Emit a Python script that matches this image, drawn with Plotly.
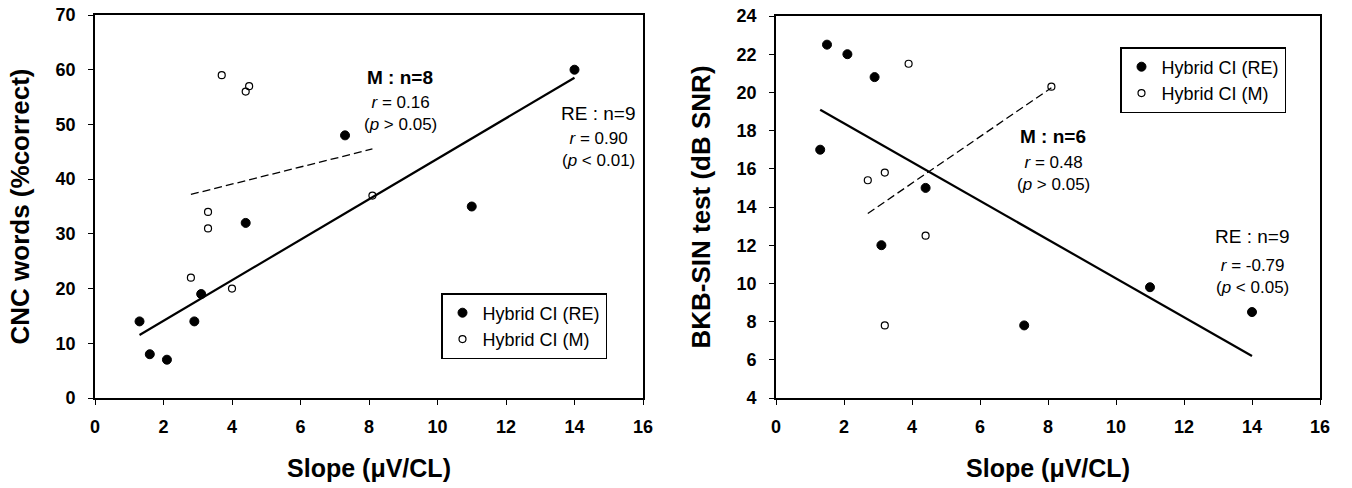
import numpy as np
import plotly.graph_objects as go

# ---- data ----
slope_re_cnc = [1.3, 1.6, 2.1, 2.9, 3.1, 4.4, 7.3, 11.0, 14.0]
cnc_re = [14, 8, 7, 14, 19, 32, 48, 35, 60]
slope_m_cnc = [3.7, 4.4, 4.5, 2.8, 3.3, 3.3, 4.0, 8.1]
cnc_m = [59, 56, 57, 22, 34, 31, 20, 37]

slope_re_bkb = [1.3, 1.5, 2.1, 2.9, 3.1, 4.4, 7.3, 11.0, 14.0]
bkb_re = [17.0, 22.5, 22.0, 20.8, 12.0, 15.0, 7.8, 9.8, 8.5]
slope_m_bkb = [3.9, 8.1, 2.7, 3.2, 4.4, 3.2]
bkb_m = [21.5, 20.3, 15.4, 15.8, 12.5, 7.8]

x_ticks = [0, 2, 4, 6, 8, 10, 12, 14, 16]
cnc_ticks = [0, 10, 20, 30, 40, 50, 60, 70]
bkb_ticks = [4, 6, 8, 10, 12, 14, 16, 18, 20, 22, 24]

legend_names = ["Hybrid CI (RE)", "Hybrid CI (M)"]
left_notes = ["<b>M : n=8</b>", "<i>r</i> = 0.16<br>(<i>p</i> &gt; 0.05)",
              "RE : n=9", "<i>r</i> = 0.90<br>(<i>p</i> &lt; 0.01)"]
right_notes = ["<b>M : n=6</b>", "<i>r</i> = 0.48<br>(<i>p</i> &gt; 0.05)",
               "RE : n=9", "<i>r</i> = -0.79<br>(<i>p</i> &lt; 0.05)"]

W, H = 1352, 488
FONT = "Liberation Sans, Arial, sans-serif"


def fit_line(x, y):
    b, a = np.polyfit(x, y, 1)
    xs = np.array([min(x), max(x)])
    return xs, a + b * xs


fig = go.Figure()

panels = [
    (slope_re_cnc, cnc_re, slope_m_cnc, cnc_m, "x", "y", "legend"),
    (slope_re_bkb, bkb_re, slope_m_bkb, bkb_m, "x2", "y2", "legend2"),
]
for xr, yr, xm, ym, xa, ya, lg in panels:
    lx, ly = fit_line(xr, yr)
    fig.add_trace(go.Scatter(x=lx, y=ly, mode="lines", xaxis=xa, yaxis=ya,
                             line=dict(color="black", width=2.2), showlegend=False,
                             hoverinfo="skip"))
    mx, my = fit_line(xm, ym)
    fig.add_trace(go.Scatter(x=mx, y=my, mode="lines", xaxis=xa, yaxis=ya,
                             line=dict(color="black", width=1.3, dash="8px,4px"),
                             showlegend=False, hoverinfo="skip"))
    fig.add_trace(go.Scatter(x=xr, y=yr, mode="markers", xaxis=xa, yaxis=ya,
                             name=legend_names[0], legend=lg,
                             marker=dict(symbol="circle", size=9, color="black",
                                         line=dict(color="black", width=1))))
    fig.add_trace(go.Scatter(x=xm, y=ym, mode="markers", xaxis=xa, yaxis=ya,
                             name=legend_names[1], legend=lg,
                             marker=dict(symbol="circle-open", size=7, color="black",
                                         line=dict(color="black", width=1.2))))


def px_x(p):
    return p / W


def px_y(p):
    return 1 - p / H


axis_common = dict(
    showline=True, linecolor="black", linewidth=1.6, mirror=True,
    ticks="outside", ticklen=5, tickwidth=1.4, tickcolor="black",
    showgrid=False, zeroline=False, automargin=False,
    tickfont=dict(family=FONT, size=18, color="black", weight="bold"),
)
xtitle_font = dict(family=FONT, size=25, color="black", weight="bold")
ytitle_font = dict(family=FONT, size=26, color="black", weight="bold")

fig.update_layout(
    width=W, height=H,
    margin=dict(l=0, r=0, t=0, b=0),
    paper_bgcolor="white", plot_bgcolor="white",
    xaxis=dict(domain=[px_x(95), px_x(643)], range=[0, 16], tickvals=x_ticks,
               ticklabelstandoff=7,
               title=dict(text="Slope (μV/CL)", standoff=23, font=xtitle_font),
               anchor="y", **axis_common),
    yaxis=dict(domain=[px_y(398), px_y(15)], range=[0, 70], tickvals=cnc_ticks,
               ticklabelstandoff=9,
               title=dict(text="CNC words (%correct)", standoff=18, font=ytitle_font),
               anchor="x", **axis_common),
    xaxis2=dict(domain=[px_x(776), px_x(1320)], range=[0, 16], tickvals=x_ticks,
                ticklabelstandoff=7,
                title=dict(text="Slope (μV/CL)", standoff=23, font=xtitle_font),
                anchor="y2", **axis_common),
    yaxis2=dict(domain=[px_y(398), px_y(16)], range=[4, 24], tickvals=bkb_ticks,
                ticklabelstandoff=9,
                title=dict(text="BKB-SIN test (dB SNR)", standoff=18, font=ytitle_font),
                anchor="x2", **axis_common),
    legend=dict(x=px_x(441), y=px_y(293), xanchor="left", yanchor="top",
                bordercolor="black", borderwidth=1.5, bgcolor="white",
                font=dict(family=FONT, size=18, color="black"),
                itemwidth=30, tracegroupgap=0),
    legend2=dict(x=px_x(1120), y=px_y(47), xanchor="left", yanchor="top",
                 bordercolor="black", borderwidth=1.5, bgcolor="white",
                 font=dict(family=FONT, size=18, color="black"),
                 itemwidth=30, tracegroupgap=0),
)

left_pos = [(400, 77), (400, 114), (598, 113), (598, 149)]
right_pos = [(1053, 136), (1053, 173), (1252, 236), (1252, 276)]
note_sizes = [19, 17, 19, 17]
for notes, poss in ((left_notes, left_pos), (right_notes, right_pos)):
    for txt, (px, py), fs in zip(notes, poss, note_sizes):
        fig.add_annotation(text=txt, x=px_x(px), y=px_y(py), xref="paper", yref="paper",
                           xanchor="center", yanchor="middle", showarrow=False,
                           font=dict(family=FONT, size=fs, color="black"))

fig.write_html("out.html", config={"displayModeBar": False},
               post_script="document.body.style.margin='0';document.body.style.padding='0';")
